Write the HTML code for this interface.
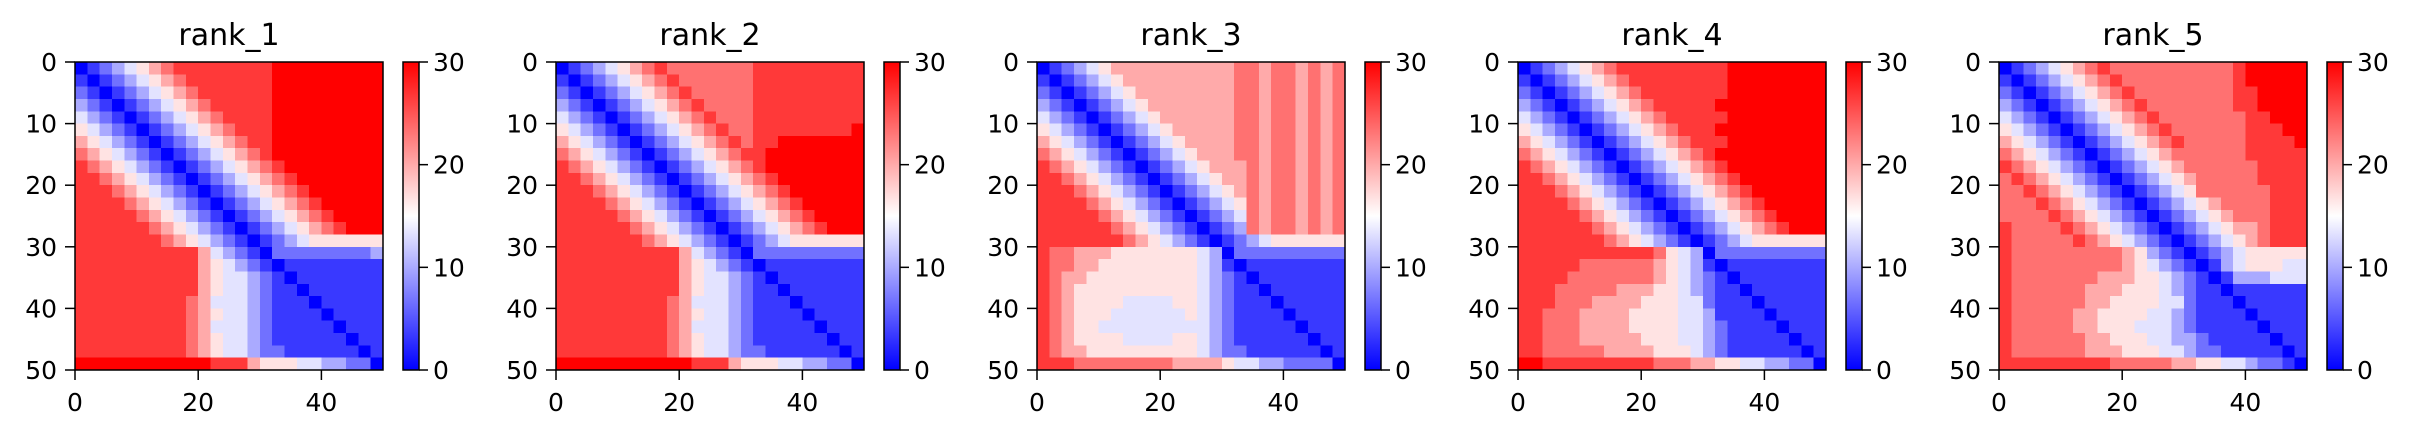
<!DOCTYPE html>
<html><head><meta charset="utf-8"><style>
html,body{margin:0;padding:0;background:#fff;}
svg{display:block;font-family:"DejaVu Sans","Liberation Sans",sans-serif;}
</style></head><body>
<svg id="fig" width="2417" height="438" viewBox="0 0 2417 438" xmlns="http://www.w3.org/2000/svg">
<defs><linearGradient id="bwr" x1="0" y1="1" x2="0" y2="0">
<stop offset="0" stop-color="#0000ff"/><stop offset="0.5" stop-color="#ffffff"/><stop offset="1" stop-color="#ff0000"/></linearGradient></defs>
</svg>
<script>
// Each char is one 2x2-residue block; digit d => PAE value d*10/3 (0..30)
const panelTitles = ["rank_1","rank_2","rank_3","rank_4","rank_5"];
const xTicks = [0,20,40];
const yTicks = [0,10,20,30,40,50];
const cbTicks = [0,10,20,30];
const rank1 = [
"012345678"+"8888888"+"999999999",
"10"+"12345678"+"888888"+"999999999",
"210"+"12345678"+"88888"+"999999999",
"3210"+"12345678"+"8888"+"999999999",
"43210"+"12345678"+"888"+"999999999",
"543210"+"12345678"+"88"+"999999999",
"6543210"+"12345678"+"8"+"999999999",
"76543210"+"12345678"+"999999999",
"876543210"+"12345678"+"99999999",
"8876543210"+"12345678"+"9999999",
"88876543210"+"12345678"+"999999",
"888876543210"+"12345678"+"99999",
"8888876543210"+"12345678"+"9999",
"88888876543210"+"12345678"+"999",
"888888876543210"+"1234"+"555555",
"8888888888"+"6"+"4321"+"0"+"222222223",
"8888888888"+"6"+"5432"+"1"+"0"+"11111111",
"8888888888"+"6"+"5443"+"21"+"0"+"1111111",
"8888888888"+"6"+"5443"+"211"+"0"+"111111",
"888888888"+"76"+"4443"+"2111"+"0"+"11111",
"888888888"+"76"+"5443"+"21111"+"0"+"1111",
"888888888"+"76"+"4443"+"211111"+"0"+"111",
"888888888"+"76"+"5443"+"2111111"+"0"+"11",
"888888888"+"76"+"5443"+"22111111"+"0"+"1",
"9999999999988865554433220"];
const rank2 = [
"012345678"+"7777777"+"888888888",
"10"+"12345678"+"777777"+"888888888",
"210"+"12345678"+"77777"+"888888888",
"3210"+"12345678"+"7777"+"888888888",
"43210"+"12345678"+"777"+"888888888",
"543210"+"12345678"+"77"+"888888889",
"6543210"+"12345678"+"7"+"889999999",
"76543210"+"12345678"+"899999999",
"876543210"+"12345678"+"99999999",
"8876543210"+"12345678"+"9999999",
"88876543210"+"12345678"+"999999",
"888876543210"+"12345678"+"99999",
"8888876543210"+"12345678"+"9999",
"88888876543210"+"12345678"+"999",
"888888876543210"+"1234"+"555555",
"8888888888"+"6"+"4321"+"0"+"222222222",
"8888888888"+"6"+"5432"+"1"+"0"+"11111111",
"8888888888"+"6"+"5443"+"21"+"0"+"1111111",
"8888888888"+"6"+"5443"+"211"+"0"+"111111",
"888888888"+"76"+"4443"+"2111"+"0"+"11111",
"888888888"+"76"+"5443"+"21111"+"0"+"1111",
"888888888"+"76"+"4443"+"211111"+"0"+"111",
"888888888"+"76"+"5443"+"2111111"+"0"+"11",
"888888888"+"76"+"5443"+"22111111"+"0"+"1",
"9999999999988865554433220"];
const rank3 = [
"012345666"+"6666666"+"776776767",
"10"+"12345666"+"666666"+"776776767",
"210"+"12345666"+"66666"+"776776767",
"3210"+"12345666"+"6666"+"776776767",
"43210"+"12345666"+"666"+"776776767",
"543210"+"12345666"+"66"+"776776767",
"6543210"+"12345666"+"6"+"776776767",
"76543210"+"12345666"+"776776767",
"876543210"+"12345666"+"76776767",
"8876543210"+"1234566"+"76776767",
"88876543210"+"123456"+"76776767",
"888876543210"+"12345"+"76776767",
"8888876543210"+"1234"+"76776767",
"88888876543210"+"123"+"76776767",
"888888876543210"+"1234555555",
"8776665555555430222222222",
"8776655555555431011111111",
"8766555555555432101111111",
"8765555555555432110111111",
"8765555444455432111011111",
"8765554444445432111101111",
"8765544444444432111110111",
"8765555444455432111111011",
"8766555555555432211111101",
"8887777777766665443322220"];
const rank4 = [
"012345678"+"8888888"+"899999999",
"10"+"12345678"+"888888"+"899999999",
"210"+"12345678"+"88888"+"899999999",
"3210"+"12345678"+"8888"+"999999999",
"43210"+"12345678"+"888"+"899999999",
"543210"+"12345678"+"88"+"999999999",
"6543210"+"12345678"+"8"+"899999999",
"76543210"+"12345678"+"999999999",
"876543210"+"12345678"+"99999999",
"8876543210"+"12345678"+"9999999",
"88876543210"+"12345678"+"999999",
"888876543210"+"12345678"+"99999",
"8888876543210"+"12345678"+"9999",
"88888876543210"+"12345678"+"999",
"888888876543210"+"1234"+"555555",
"8888888888875430222222222",
"8888877777765431011111111",
"8888777777765432101111111",
"8887777766655432110111111",
"8887776666555442111011111",
"8877766665555443111101111",
"8877766665555443211110111",
"8877766666555443211111011",
"8877777666655543211111101",
"9988888888877766554433220"];
const rank5 = [
"012345678"+"7777777"+"777899999",
"10"+"12345678"+"777777"+"777899999",
"210"+"12345678"+"77777"+"777889999",
"3210"+"12345678"+"7777"+"777889999",
"43210"+"12345678"+"777"+"777788999",
"543210"+"12345678"+"77"+"777788899",
"6543210"+"12345678"+"7"+"777788889",
"76543210"+"1234567"+"7"+"777788888",
"876543210"+"1234567"+"777778888",
"7876543210"+"123456"+"777778888",
"77876543210"+"12345"+"777777888",
"777876543210"+"1234567"+"777888",
"7777876543210"+"1234567"+"77888",
"87777876543210"+"1234566"+"7888",
"877777876543210"+"123456"+"7888",
"8777777777"+"6"+"5321"+"0"+"123455555",
"8777777777"+"6"+"5432"+"1"+"0"+"13455544",
"8777777766655432101333444",
"8777777666555432110111111",
"8777777665555442111011111",
"8777776655554432111101111",
"8777776655544432111110111",
"8777777665554433211111011",
"8777777666555443221111101",
"8888888887777766554432210"];
const panels = [rank1,rank2,rank3,rank4,rank5];

const NS="http://www.w3.org/2000/svg";
const svg=document.getElementById('fig');
const N=25, HX0=75, DX=481, HY=62, HS=308, VMAX=30, RES=50;
function mk(tag,attrs,parent){const e=document.createElementNS(NS,tag);for(const k in attrs)e.setAttribute(k,attrs[k]);(parent||svg).appendChild(e);return e;}
function col(v){const t=Math.max(0,Math.min(1,v/VMAX));let r,g,b;
 if(t<0.5){r=g=Math.round(2*t*255);b=255;}else{r=255;g=b=Math.round((2-2*t)*255);}
 return `rgb(${r},${g},${b})`;}
function cellVal(rows,i,j){const s=rows[Math.min(i,rows.length-1)];const c=s[Math.min(j,s.length-1)];return parseInt(c,10)*10/3;}

panels.forEach((rows,p)=>{
 const hx=HX0+DX*p;
 const xs=v=>hx+v*HS/RES, ys=v=>HY+v*HS/RES;
 const g=mk('g',{});
 
 
 const t=mk('text',{x:hx+HS/2,y:45,'font-size':30,'text-anchor':'middle',fill:'#000'},g);
 t.textContent=panelTitles[p];
 
 
 const hm=mk('g',{'shape-rendering':'crispEdges'},g);
 
 
 const bs=HS/N;
 for(let i=0;i<N;i++)for(let j=0;j<N;j++){
  const r=mk('rect',{x:(hx+j*bs).toFixed(2),y:(HY+i*bs).toFixed(2),width:(bs+0.6).toFixed(2),height:(bs+0.6).toFixed(2),fill:col(cellVal(rows,i,j))},hm);
  
  
 }
 mk('rect',{x:hx,y:HY,width:HS,height:HS,fill:'none',stroke:'#000','stroke-width':1.5},g);
 yTicks.forEach(v=>{
  mk('line',{x1:hx-10,x2:hx,y1:ys(v),y2:ys(v),stroke:'#000','stroke-width':1.5},g);
  const l=mk('text',{x:hx-18,y:ys(v)+9,'font-size':25,'text-anchor':'end'},g);
  l.textContent=v;
  
  
 });
 xTicks.forEach(v=>{
  mk('line',{x1:xs(v),x2:xs(v),y1:HY+HS,y2:HY+HS+10,stroke:'#000','stroke-width':1.5},g);
  const l=mk('text',{x:xs(v),y:411,'font-size':25,'text-anchor':'middle'},g);
  l.textContent=v;
  
  
 });
 const cx=hx+328;
 const cb=mk('rect',{x:cx,y:HY,width:16,height:HS,fill:'url(#bwr)',stroke:'#000','stroke-width':1.5},g);
 
 
 cbTicks.forEach(v=>{
  const y=HY+HS-v/VMAX*HS;
  mk('line',{x1:cx+16,x2:cx+25,y1:y,y2:y,stroke:'#000','stroke-width':1.5},g);
  const l=mk('text',{x:cx+30,y:y+9,'font-size':25},g);
  l.textContent=v;
  
  
 });
});
</script>
</body></html>
